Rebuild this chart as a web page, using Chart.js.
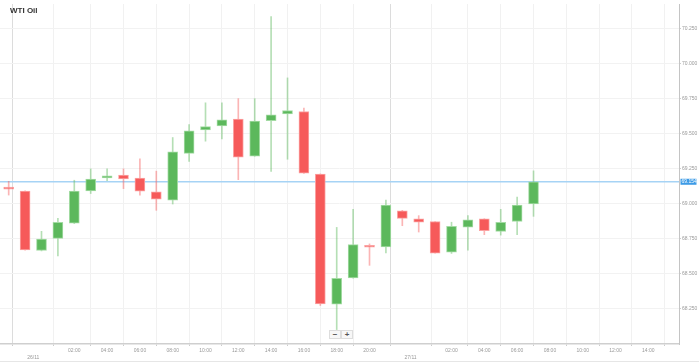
<!DOCTYPE html>
<html><head><meta charset="utf-8">
<script src="https://cdn.jsdelivr.net/npm/chart.js@4"></script>
<style>
html,body{margin:0;padding:0;background:#fff;}
#wrap{position:relative;width:699px;height:363px;overflow:hidden;}
#c{position:absolute;left:0;top:0;}
#title{position:absolute;left:10px;top:6px;font:bold 8px 'Liberation Sans',Arial,sans-serif;color:#333;}
.zb{position:absolute;top:330px;width:10px;height:7px;border:1px solid #ddd;background:#f7f7f7;font:bold 8px 'Liberation Sans',Arial,sans-serif;line-height:7px;text-align:center;color:#555;}
#bl{position:absolute;left:0;top:361px;width:699px;height:1px;background:#e6e6e6;}
</style></head>
<body><div id="wrap"><canvas id="c" width="699" height="363"></canvas><div id="title">WTI Oil</div><div class="zb" style="left:329px">−</div><div class="zb" style="left:341px">+</div><div id="bl"></div></div>
<script>
const candleTimes = ['25/11 22:00','25/11 23:00','26/11 00:00','01:00','02:00','03:00','04:00','05:00','06:00','07:00','08:00','09:00','10:00','11:00','12:00','13:00','14:00','15:00','16:00','17:00','18:00','19:00','20:00','21:00','23:00','27/11 00:00','01:00','02:00','03:00','04:00','05:00','06:00','07:00'];
const opens  = [69.112,69.087,68.663,68.750,68.858,69.089,69.181,69.202,69.181,69.082,69.023,69.357,69.525,69.553,69.602,69.336,69.590,69.638,69.656,69.209,68.279,68.467,68.698,68.689,68.946,68.889,68.870,68.651,68.830,68.889,68.799,68.870,68.995];
const highs  = [69.157,69.090,68.800,68.893,69.165,69.246,69.246,69.246,69.317,69.230,69.470,69.562,69.718,69.718,69.748,69.748,70.334,69.896,69.680,69.210,68.828,68.957,68.710,69.023,68.950,68.912,68.870,68.865,68.912,68.890,68.957,69.044,69.232];
const lows   = [69.059,68.665,68.660,68.625,68.855,69.070,69.162,69.105,69.059,68.950,68.995,69.299,69.444,69.461,69.169,69.336,69.228,69.315,69.214,68.270,68.098,68.465,68.557,68.646,68.840,68.795,68.644,68.642,68.665,68.776,68.773,68.776,68.907];
const closes = [69.101,68.667,68.745,68.865,69.087,69.174,69.197,69.174,69.087,69.030,69.367,69.518,69.548,69.597,69.329,69.588,69.633,69.663,69.216,68.282,68.465,68.705,68.686,68.988,68.893,68.865,68.644,68.835,68.882,68.804,68.865,68.988,69.154];
const currentPrice = 69.154;
const yTickValues = [68.25,68.5,68.75,69.0,69.25,69.5,69.75,70.0,70.25];
const xTickPositions = [1.5,4,6,8,10,12,14,16,18,20,22,24.5,27,29,31,33,35,37,39];
const xTickLabels = [['','26/11'],'02:00','04:00','06:00','08:00','10:00','12:00','14:00','16:00','18:00','20:00',['','27/11'],'02:00','04:00','06:00','08:00','10:00','12:00','14:00'];
const dateTicks = [1.5, 24.5];
const X_MIN = -0.53, X_MAX = 40.87, Y_MIN = 67.995, Y_MAX = 70.424;

const GREEN = '#5cb85c', RED = '#f65a5a';
const up = opens.map((o,i)=>closes[i] >= o);
const FONT = "'Liberation Sans', Arial, sans-serif";

const priceLabel = {
  id: 'priceLabel',
  afterDraw(chart) {
    const y = chart.scales.y.getPixelForValue(currentPrice);
    const ctx = chart.ctx, r = chart.chartArea.right;
    ctx.save();
    ctx.fillStyle = '#3d9be6';
    ctx.fillRect(r + 1.5, y - 3, 16, 6);
    ctx.fillStyle = '#fff';
    ctx.font = '5px ' + FONT;
    ctx.textBaseline = 'middle';
    ctx.fillText(currentPrice.toFixed(3), r + 2.5, y + 0.3);
    ctx.restore();
  }
};

new Chart(document.getElementById('c'), {
  type: 'bar',
  data: {
    datasets: [
      {
        label: 'body',
        data: opens.map((o,i)=>({x:i, y:[o, closes[i]]})),
        backgroundColor: up.map(u => u ? GREEN : RED),
        borderColor: up.map(u => u ? '#a3dba3' : '#fba3a3'),
        borderWidth: 1,
        borderSkipped: false,
        barThickness: 10,
        minBarLength: 2,
        grouped: false,
        order: 0
      },
      {
        label: 'wick',
        data: lows.map((l,i)=>({x:i, y:[l, highs[i]]})),
        backgroundColor: up.map(u => u ? 'rgba(92,184,92,0.45)' : 'rgba(246,90,90,0.45)'),
        borderWidth: 0,
        barThickness: 1,
        grouped: false,
        order: 1
      },
      {
        type: 'line',
        label: 'price',
        data: [{x:X_MIN, y:currentPrice},{x:X_MAX, y:currentPrice}],
        borderColor: '#a6d3f5',
        borderWidth: 1.5,
        pointRadius: 0,
        order: 3
      }
    ]
  },
  options: {
    responsive: false,
    animation: false,
    devicePixelRatio: 1,
    layout: { padding: 0 },
    plugins: { legend: {display:false}, tooltip: {enabled:false} },
    scales: {
      x: {
        type: 'linear', min: X_MIN, max: X_MAX, offset: false,
        afterBuildTicks: s => { s.ticks = xTickPositions.map(v => ({value: v})); },
        afterFit: s => { s.height = 19; },
        grid: {
          color: ctx => (ctx.tick && dateTicks.includes(ctx.tick.value)) ? '#dcdcdc' : '#f1f1f1',
          tickLength: 2,
          tickColor: '#ccc'
        },
        border: { display: true, color: '#cfcfcf', width: 1.5 },
        ticks: {
          autoSkip: false, maxRotation: 0, minRotation: 0,
          font: { size: 5, family: FONT, lineHeight: 1.4 },
          color: '#999', padding: 1,
          callback: (v, i) => xTickLabels[i]
        }
      },
      y: {
        position: 'right', min: Y_MIN, max: Y_MAX,
        afterBuildTicks: s => { s.ticks = yTickValues.map(v => ({value: v})); },
        afterFit: s => { s.width = 20; },
        grid: { color: '#f2f2f2', tickLength: 2, tickColor: '#ccc' },
        border: { display: true, color: '#c4c4c4', width: 1 },
        ticks: {
          font: { size: 5, family: FONT },
          color: '#999', padding: 1,
          callback: v => Number(v).toFixed(3)
        }
      }
    }
  },
  plugins: [priceLabel]
});
</script>
</body></html>
